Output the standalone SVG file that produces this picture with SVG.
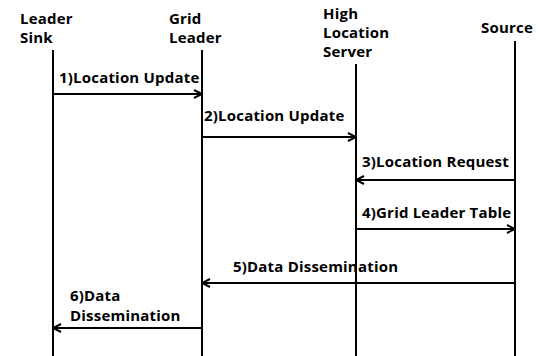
<svg xmlns="http://www.w3.org/2000/svg" width="540" height="356" viewBox="0 0 540 356">
<style>
text{font-family:"Open Sans","Noto Sans","DejaVu Sans",sans-serif;font-weight:bold;font-size:15px;letter-spacing:0.2px;fill:#000}
.life{stroke:#000;stroke-width:2;fill:none}
.msg{stroke:#000;stroke-width:2;fill:none;marker-end:url(#arr)}
</style>
<defs>
<marker id="arr" viewBox="0 0 10 10" refX="9" refY="5" markerWidth="10" markerHeight="10" markerUnits="userSpaceOnUse" orient="auto">
<path d="M1,1 L9,5 L1,9" fill="none" stroke="#000" stroke-width="2"/>
</marker>
</defs>
<rect width="540" height="356" fill="#fff"/>
<g id="leader-sink">
<text x="20" y="24">Leader</text>
<text x="20" y="43">Sink</text>
<line class="life" x1="53" y1="50" x2="53" y2="356"/>
</g>
<g id="grid-leader">
<text x="169" y="24">Grid</text>
<text x="169" y="43">Leader</text>
<line class="life" x1="202" y1="50" x2="202" y2="356"/>
</g>
<g id="high-location-server">
<text x="323" y="19">High</text>
<text x="323" y="38">Location</text>
<text x="323" y="57">Server</text>
<line class="life" x1="356" y1="64" x2="356" y2="356"/>
</g>
<g id="source">
<text x="481" y="33">Source</text>
<line class="life" x1="515" y1="41" x2="515" y2="356"/>
</g>
<g id="connectors">
<line class="msg" x1="53" y1="94" x2="202" y2="94"/>
<text x="59" y="83">1)Location Update</text>
<line class="msg" x1="202" y1="137" x2="356" y2="137"/>
<text x="204" y="121">2)Location Update</text>
<line class="msg" x1="515" y1="180" x2="356" y2="180"/>
<text x="362" y="167">3)Location Request</text>
<line class="msg" x1="356" y1="229" x2="515" y2="229"/>
<text x="362" y="218">4)Grid Leader Table</text>
<line class="msg" x1="515" y1="283" x2="202" y2="283"/>
<text x="233" y="272">5)Data Dissemination</text>
<line class="msg" x1="202" y1="328" x2="53" y2="328"/>
<text x="70" y="301">6)Data</text>
<text x="70" y="321">Dissemination</text>
</g>
</svg>
